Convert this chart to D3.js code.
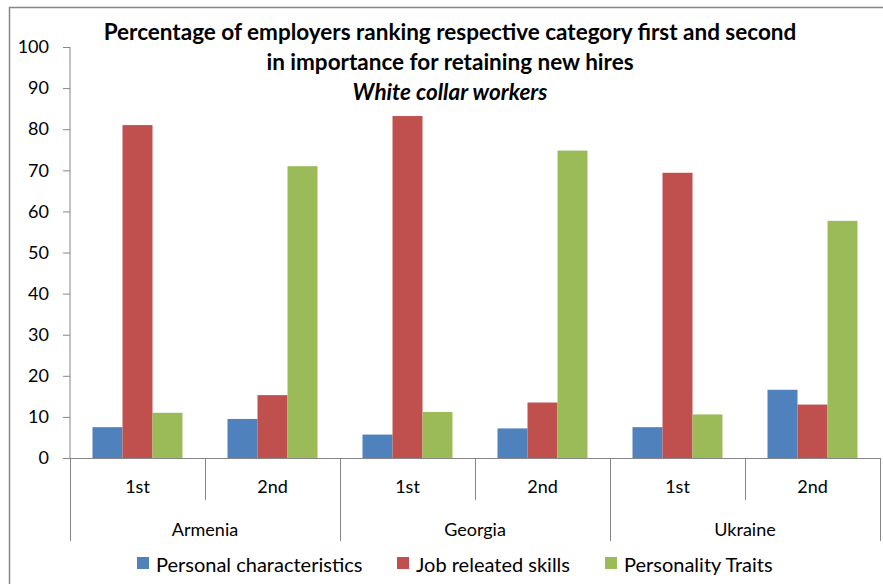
<!DOCTYPE html>
<html>
<head>
<meta charset="utf-8">
<script src="https://cdn.jsdelivr.net/npm/d3@7"></script>
<style>
  html, body { margin: 0; padding: 0; background: #fff; }
  svg { display: block; }
  text { font-family: Lato, "Open Sans", sans-serif; fill: #000; }
</style>
</head>
<body>
<svg id="chart" width="883" height="584"></svg>
<script>
// ---- data ----
const countries = ["Armenia", "Georgia", "Ukraine"];
const ranks = ["1st", "2nd"];
const seriesNames = ["Personal characteristics", "Job releated skills", "Personality Traits"];
const personalCharacteristics = [7.5, 9.5, 5.7, 7.2, 7.5, 16.6];
const jobRelatedSkills = [81.0, 15.3, 83.2, 13.5, 69.4, 13.0];
const personalityTraits = [11.0, 71.0, 11.2, 74.8, 10.6, 57.7];
const yTicks = [0, 10, 20, 30, 40, 50, 60, 70, 80, 90, 100];
const titleLines = ["Percentage of employers ranking respective category first and second",
                    "in importance for retaining new hires"];
const subtitle = "White collar workers";
const colors = ["#4F81BD", "#C0504D", "#9BBB59"];

// ---- build table ----
const seriesValues = [personalCharacteristics, jobRelatedSkills, personalityTraits];
const groups = [];
countries.forEach(c => ranks.forEach(r => groups.push({country: c, rank: r, key: c + "|" + r})));
groups.forEach((g, i) => { g.values = seriesNames.map((s, j) => ({series: s, idx: j, value: seriesValues[j][i]})); });

const svg = d3.select("#chart");
const pLeft = 70, pRight = 880, pTop = 47, pBottom = 458;

// chart frame
svg.append("rect").attr("x", 9.5).attr("y", 7.5).attr("width", 890).attr("height", 590)
  .attr("fill", "none").attr("stroke", "#868686").attr("stroke-width", 1.5);

const x0 = d3.scaleBand().domain(groups.map(g => g.key)).range([pLeft, pRight]).padding(0);
const x1 = d3.scaleBand().domain(seriesNames).range([0, x0.bandwidth()]).paddingInner(0).paddingOuter(0.75);
const y = d3.scaleLinear().domain([0, 100]).range([pBottom, pTop]);

// bars
const gG = svg.append("g").selectAll("g").data(groups).join("g")
  .attr("transform", d => `translate(${x0(d.key)},0)`);
gG.selectAll("rect").data(d => d.values).join("rect")
  .attr("x", d => x1(d.series))
  .attr("y", d => y(d.value))
  .attr("width", x1.bandwidth())
  .attr("height", d => y(0) - y(d.value))
  .attr("fill", d => colors[d.idx]);

// y axis
const yAxis = d3.axisLeft(y).tickValues(yTicks).tickSize(7).tickPadding(14);
const ya = svg.append("g").attr("transform", `translate(${pLeft},0)`).call(yAxis);
ya.select(".domain").attr("stroke", "#868686").attr("d", `M0,${pTop}V${pBottom}`);
ya.selectAll(".tick line").attr("stroke", "#868686");
ya.selectAll(".tick text").attr("font-family", "Lato, sans-serif").attr("font-size", 18).attr("fill", "#000");

// x category axis
const axisG = svg.append("g").attr("stroke", "#868686").attr("stroke-width", 1);
axisG.append("line").attr("x1", pLeft - 7).attr("x2", pRight).attr("y1", pBottom + 0.5).attr("y2", pBottom + 0.5);
const boundaries = groups.map(g => x0(g.key)).concat([pRight]);
boundaries.forEach((bx, i) => {
  const isCountry = i % ranks.length === 0;
  axisG.append("line").attr("x1", Math.round(bx) + 0.5).attr("x2", Math.round(bx) + 0.5)
    .attr("y1", pBottom).attr("y2", isCountry ? 541 : 500);
});
svg.append("g").selectAll("text").data(groups).join("text")
  .attr("x", d => x0(d.key) + x0.bandwidth() / 2)
  .attr("y", 493)
  .attr("text-anchor", "middle")
  .attr("font-size", 18)
  .text(d => d.rank);
svg.append("g").selectAll("text").data(countries).join("text")
  .attr("x", c => {
    const ks = groups.filter(g => g.country === c);
    return (x0(ks[0].key) + x0(ks[ks.length - 1].key) + x0.bandwidth()) / 2;
  })
  .attr("y", 536)
  .attr("text-anchor", "middle")
  .attr("font-size", 18)
  .text(c => c);

// title
const tG = svg.append("g").attr("text-anchor", "middle").attr("font-weight", "bold").attr("font-size", 22.5);
titleLines.forEach((t, i) => tG.append("text").attr("x", 450).attr("y", 40 + i * 30).text(t));
tG.append("text").attr("x", 450).attr("y", 100).attr("font-style", "italic").text(subtitle);

// legend
const legendX = [137, 397, 605];
const lg = svg.append("g").selectAll("g").data(seriesNames).join("g")
  .attr("transform", (d, i) => `translate(${legendX[i]},557)`);
lg.append("rect").attr("width", 12).attr("height", 12).attr("fill", (d, i) => colors[i]);
lg.append("text").attr("x", 19).attr("y", 15).attr("font-size", 20).text(d => d);
</script>
</body>
</html>
